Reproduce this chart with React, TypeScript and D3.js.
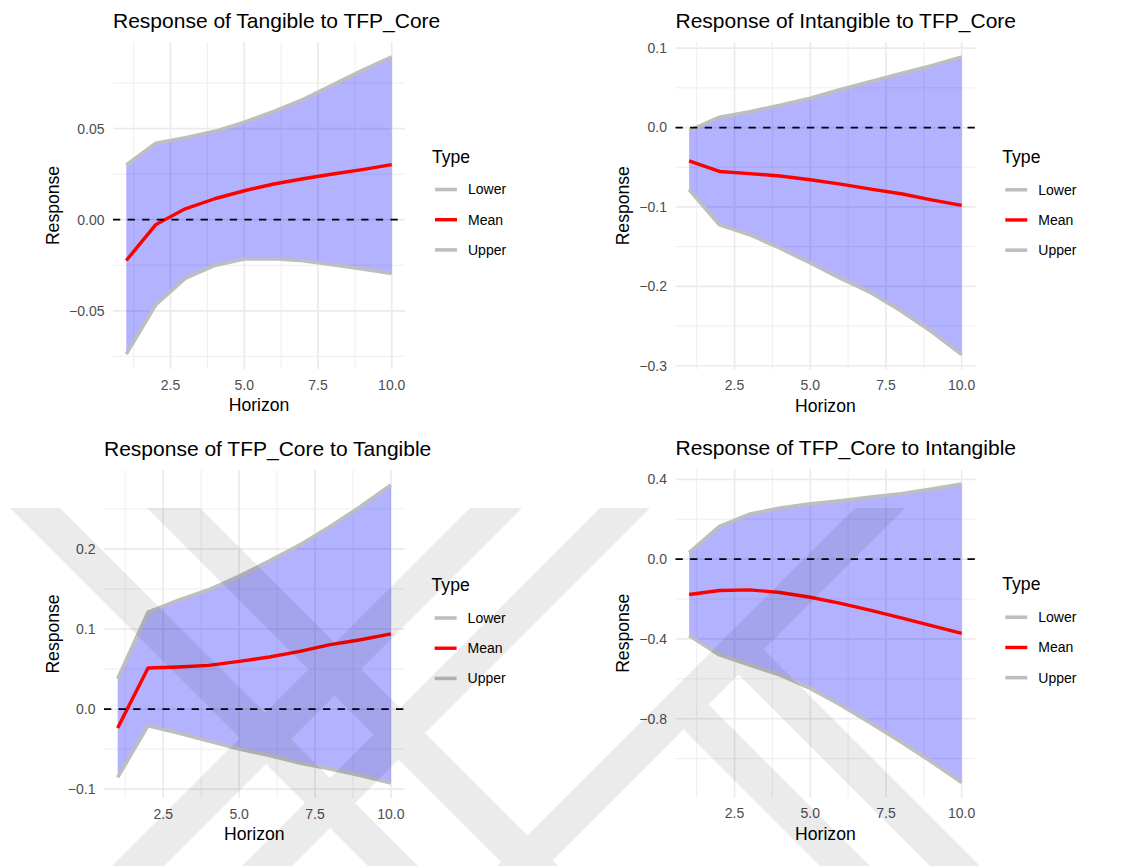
import React from "react";
import * as d3 from "d3";

// Forecast horizons shared by every impulse-response panel
const HORIZON = [1, 2, 3, 4, 5, 6, 7, 8, 9, 10];

// Response of Tangible to TFP_Core
const TAN_TFP_LOWER = [-0.0738, -0.0467, -0.0322, -0.0251, -0.0216, -0.0214, -0.0225, -0.0247, -0.0271, -0.0295];
const TAN_TFP_MEAN = [-0.0224, -0.0027, 0.006, 0.0115, 0.0159, 0.0196, 0.0225, 0.0251, 0.0275, 0.0302];
const TAN_TFP_UPPER = [0.03, 0.042, 0.045, 0.0485, 0.0535, 0.0595, 0.066, 0.074, 0.082, 0.0894];

// Response of Intangible to TFP_Core
const INT_TFP_LOWER = [-0.078, -0.1224, -0.135, -0.152, -0.1706, -0.19, -0.208, -0.231, -0.257, -0.286];
const INT_TFP_MEAN = [-0.042, -0.0553, -0.058, -0.061, -0.0658, -0.0712, -0.0775, -0.0834, -0.091, -0.098];
const INT_TFP_UPPER = [-0.004, 0.013, 0.02, 0.028, 0.037, 0.048, 0.058, 0.068, 0.078, 0.089];

// Response of TFP_Core to Tangible
const TFP_TAN_LOWER = [-0.0854, -0.0208, -0.03, -0.04, -0.05, -0.058, -0.0675, -0.075, -0.083, -0.0925];
const TFP_TAN_MEAN = [-0.0238, 0.0512, 0.0525, 0.0545, 0.0596, 0.065, 0.072, 0.0804, 0.0866, 0.094];
const TFP_TAN_UPPER = [0.038, 0.121, 0.136, 0.149, 0.166, 0.185, 0.205, 0.228, 0.253, 0.28];

// Response of TFP_Core to Intangible
const TFP_INT_LOWER = [-0.383, -0.48, -0.531, -0.581, -0.648, -0.731, -0.823, -0.916, -1.016, -1.12];
const TFP_INT_MEAN = [-0.177, -0.157, -0.154, -0.167, -0.191, -0.222, -0.257, -0.294, -0.333, -0.372];
const TFP_INT_UPPER = [0.033, 0.164, 0.226, 0.256, 0.278, 0.293, 0.311, 0.328, 0.351, 0.377];

// Axis breaks
const X_BREAKS = [2.5, 5, 7.5, 10];
const X_LABELS = ["2.5", "5.0", "7.5", "10.0"];
const Y_BREAKS_TAN_TFP = [-0.05, 0, 0.05];
const Y_LABELS_TAN_TFP = ["\u22120.05", "0.00", "0.05"];
const Y_BREAKS_INT_TFP = [-0.3, -0.2, -0.1, 0, 0.1];
const Y_LABELS_INT_TFP = ["\u22120.3", "\u22120.2", "\u22120.1", "0.0", "0.1"];
const Y_BREAKS_TFP_TAN = [-0.1, 0, 0.1, 0.2];
const Y_LABELS_TFP_TAN = ["\u22120.1", "0.0", "0.1", "0.2"];
const Y_BREAKS_TFP_INT = [-0.8, -0.4, 0, 0.4];
const Y_LABELS_TFP_INT = ["\u22120.8", "\u22120.4", "0.0", "0.4"];

const LEGEND_LABELS = ["Lower", "Mean", "Upper"];

const FONT = "'Liberation Sans', Arial, Helvetica, sans-serif";
const BAND_GREY = "#BEBEBE";
const MEAN_RED = "#FF0000";
const GRID = "#EBEBEB";

type PanelCfg = {
  title: string;
  lower: number[];
  mean: number[];
  upper: number[];
  yBreaks: number[];
  yLabels: string[];
  left: number;
  right: number;
  top: number;
  bottom: number;
  yTitleX: number;
};

const PANELS: PanelCfg[] = [
  {
    title: "Response of Tangible to TFP_Core",
    lower: TAN_TFP_LOWER, mean: TAN_TFP_MEAN, upper: TAN_TFP_UPPER,
    yBreaks: Y_BREAKS_TAN_TFP, yLabels: Y_LABELS_TAN_TFP,
    left: 113, right: 405, top: 42, bottom: 369, yTitleX: 53,
  },
  {
    title: "Response of Intangible to TFP_Core",
    lower: INT_TFP_LOWER, mean: INT_TFP_MEAN, upper: INT_TFP_UPPER,
    yBreaks: Y_BREAKS_INT_TFP, yLabels: Y_LABELS_INT_TFP,
    left: 675.5, right: 975.3, top: 42, bottom: 369.5, yTitleX: 623,
  },
  {
    title: "Response of TFP_Core to Tangible",
    lower: TFP_TAN_LOWER, mean: TFP_TAN_MEAN, upper: TFP_TAN_UPPER,
    yBreaks: Y_BREAKS_TFP_TAN, yLabels: Y_LABELS_TFP_TAN,
    left: 104, right: 404.6, top: 470, bottom: 798, yTitleX: 53,
  },
  {
    title: "Response of TFP_Core to Intangible",
    lower: TFP_INT_LOWER, mean: TFP_INT_MEAN, upper: TFP_INT_UPPER,
    yBreaks: Y_BREAKS_TFP_INT, yLabels: Y_LABELS_TFP_INT,
    left: 675.5, right: 975.3, top: 469, bottom: 797.5, yTitleX: 623,
  },
];

function minorBreaks(breaks: number[], lo: number, hi: number): number[] {
  const step = breaks[1] - breaks[0];
  const out: number[] = [];
  for (let i = -1; i < breaks.length; i++) {
    const m = breaks[0] + (i + 0.5) * step;
    if (m >= lo && m <= hi) out.push(m);
  }
  return out;
}

function Panel({ cfg }: { cfg: PanelCfg }) {
  const xLo = d3.min(HORIZON)! - 0.45;
  const xHi = d3.max(HORIZON)! + 0.45;
  const x = d3.scaleLinear().domain([xLo, xHi]).range([cfg.left, cfg.right]);

  const all = [...cfg.lower, ...cfg.upper, ...cfg.mean];
  const [mn, mx] = d3.extent(all) as [number, number];
  const pad = (mx - mn) * 0.05;
  const y = d3.scaleLinear().domain([mn - pad, mx + pad]).range([cfg.bottom, cfg.top]);

  const idx = HORIZON.map((_, i) => i);
  const area = d3
    .area<number>()
    .x((i) => x(HORIZON[i]))
    .y0((i) => y(cfg.lower[i]))
    .y1((i) => y(cfg.upper[i]));
  const line = (vals: number[]) =>
    d3
      .line<number>()
      .x((i) => x(HORIZON[i]))
      .y((i) => y(vals[i]))(idx) || "";

  const yMinor = minorBreaks(cfg.yBreaks, mn - pad, mx + pad);
  const xMinor = minorBreaks(X_BREAKS, xLo, xHi);
  const yMajor = cfg.yBreaks.filter((b) => b >= mn - pad && b <= mx + pad);

  const cy = (cfg.top + cfg.bottom) / 2;
  const cx = (cfg.left + cfg.right) / 2;
  const legendY = [cy - 16, cy + 14.2, cy + 44.4];
  const legendColors = [BAND_GREY, MEAN_RED, BAND_GREY];

  return (
    <g>
      {/* grid */}
      {yMinor.map((v) => (
        <line key={"ym" + v} x1={cfg.left} x2={cfg.right} y1={y(v)} y2={y(v)} stroke={GRID} strokeWidth={0.85} />
      ))}
      {xMinor.map((v) => (
        <line key={"xm" + v} x1={x(v)} x2={x(v)} y1={cfg.top} y2={cfg.bottom} stroke={GRID} strokeWidth={0.85} />
      ))}
      {yMajor.map((v) => (
        <line key={"yM" + v} x1={cfg.left} x2={cfg.right} y1={y(v)} y2={y(v)} stroke={GRID} strokeWidth={1.7} />
      ))}
      {X_BREAKS.map((v) => (
        <line key={"xM" + v} x1={x(v)} x2={x(v)} y1={cfg.top} y2={cfg.bottom} stroke={GRID} strokeWidth={1.7} />
      ))}

      {/* confidence band and response lines */}
      <path d={area(idx) || ""} fill="#0000FF" fillOpacity={0.3} />
      <path d={line(cfg.lower)} fill="none" stroke={BAND_GREY} strokeWidth={3.6} strokeLinejoin="round" />
      <path d={line(cfg.upper)} fill="none" stroke={BAND_GREY} strokeWidth={3.6} strokeLinejoin="round" />
      <path d={line(cfg.mean)} fill="none" stroke={MEAN_RED} strokeWidth={3.4} strokeLinejoin="round" />
      <line x1={cfg.left} x2={cfg.right} y1={y(0)} y2={y(0)} stroke="#000" strokeWidth={1.8} strokeDasharray="7.3,7.3" />

      {/* axes text */}
      {yMajor.map((v) => (
        <text key={"yl" + v} x={cfg.left - 8.5} y={y(v)} dy="0.35em" textAnchor="end" fontSize={14} fill="#4D4D4D" fontFamily={FONT}>
          {cfg.yLabels[cfg.yBreaks.indexOf(v)]}
        </text>
      ))}
      {X_BREAKS.map((v, i) => (
        <text key={"xl" + v} x={x(v)} y={cfg.bottom + 16} dy="0.35em" textAnchor="middle" fontSize={14} fill="#4D4D4D" fontFamily={FONT}>
          {X_LABELS[i]}
        </text>
      ))}
      <text x={cx} y={cfg.bottom + 36} dy="0.35em" textAnchor="middle" fontSize={17.6} fill="#000" fontFamily={FONT}>
        Horizon
      </text>
      <text
        transform={`translate(${cfg.yTitleX},${cy}) rotate(-90)`}
        dy="0.35em"
        textAnchor="middle"
        fontSize={17.6}
        fill="#000"
        fontFamily={FONT}
      >
        Response
      </text>
      <text x={cfg.left} y={cfg.top - 14.5} fontSize={21} fill="#000" fontFamily={FONT}>
        {cfg.title}
      </text>

      {/* legend */}
      <text x={cfg.right + 27} y={cy - 49} dy="0.35em" fontSize={17.6} fill="#000" fontFamily={FONT}>
        Type
      </text>
      {LEGEND_LABELS.map((lab, i) => (
        <g key={lab}>
          <line
            x1={cfg.right + 30}
            x2={cfg.right + 52}
            y1={legendY[i]}
            y2={legendY[i]}
            stroke={legendColors[i]}
            strokeWidth={i === 1 ? 3.4 : 3.6}
          />
          <text x={cfg.right + 63} y={legendY[i]} dy="0.35em" fontSize={14} fill="#000" fontFamily={FONT}>
            {lab}
          </text>
        </g>
      ))}
    </g>
  );
}

// Faint diagonal stripe mark over the lower row
const STRIPES: [number, number][][] = [
  [[10, 508], [60, 508], [418, 866], [368, 866]],
  [[147, 508], [200, 508], [558, 866], [505, 866]],
  [[470, 508], [522, 508], [164, 866], [112, 866]],
  [[600, 508], [650, 508], [292, 866], [242, 866]],
  [[855, 508], [905, 508], [547, 866], [497, 866]],
  [[683.5, 729.5], [708.5, 704.5], [870, 866], [820, 866]],
  [[738.5, 674.5], [763.5, 649.5], [980, 866], [930, 866]],
];

export default function App() {
  return (
    <svg
      width={1129}
      height={866}
      viewBox="0 0 1129 866"
      style={{ position: "absolute", left: 0, top: 0, background: "#fff" }}
    >
      <rect x={0} y={0} width={1129} height={866} fill="#fff" />
      {PANELS.map((p) => (
        <Panel key={p.title} cfg={p} />
      ))}
      <g opacity={0.075}>
        {STRIPES.map((pts, i) => (
          <polygon key={i} points={pts.map((p) => p.join(",")).join(" ")} fill="#000" />
        ))}
      </g>
    </svg>
  );
}
